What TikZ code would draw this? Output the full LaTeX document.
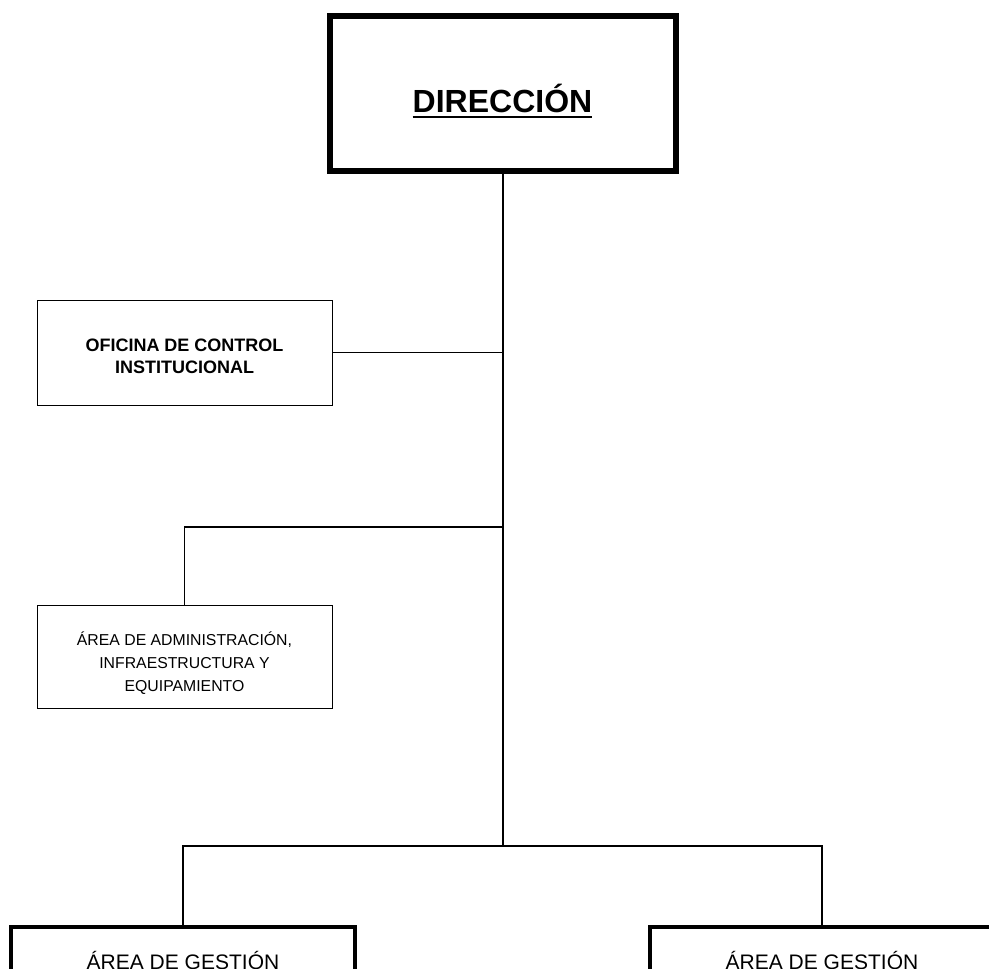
\documentclass[tikz,border=0pt]{standalone}
\usepackage{fontspec}
\setmainfont{Liberation Sans}
\begin{document}
\begin{tikzpicture}[x=1pt,y=-1pt,
  conn/.style={line width=1.5pt},
  thinbox/.style={draw,line width=1pt,inner sep=0pt,minimum width=295pt},
  boxtext/.style={inner sep=0pt,align=center},
  thickbox/.style={draw,line width=4pt,inner sep=0pt,minimum width=344pt,minimum height=120pt,anchor=north},
  lbl/.style={inner sep=0pt,anchor=base}]
\useasboundingbox (0,0) rectangle (989,969);
\clip (0,0) rectangle (989,969);
% Dirección
\node[draw,line width=6pt,minimum width=346pt,minimum height=155pt] (dir) at (503,93.5) {};
\node[lbl,font=\fontsize{32}{36}\selectfont\bfseries] (dirlbl) at (502.5,112) {DIRECCIÓN};
\draw[line width=2.8pt] ([yshift=-5pt]dirlbl.base west) -- ([yshift=-5pt]dirlbl.base east);
% side boxes
\node[thinbox,minimum height=105pt] (oci) at (184.5,352.5) {};
\node[boxtext,font=\bfseries\fontsize{18}{22}\selectfont] (ocitxt) at (184.5,356) {OFICINA DE CONTROL\\INSTITUCIONAL};
\node[thinbox,minimum height=103pt] (adm) at (184.5,656.5) {};
\node[boxtext,font=\fontsize{15.8}{23}\selectfont] (admtxt) at (184.5,663) {ÁREA DE ADMINISTRACIÓN,\\INFRAESTRUCTURA Y\\EQUIPAMIENTO};
% bottom boxes
\node[thickbox] (gl) at (183,925) {};
\node[thickbox] (gr) at (822,925) {};
\node[lbl,font=\fontsize{21}{24}\selectfont] (gllbl) at (183,969) {ÁREA DE GESTIÓN};
\node[lbl,font=\fontsize{21}{24}\selectfont] (grlbl) at (822,969) {ÁREA DE GESTIÓN};
% connectors
\coordinate (ab) at (503,527);
\coordinate (tb) at (503,846);
\draw[conn] (dir.south) -- (tb);
\draw[conn] (oci.east) -- (oci.east -| tb);
\draw[conn] (ab) -| (adm.north);
\draw[conn] (gl.north) |- (tb) -| (gr.north);
\end{tikzpicture}
\end{document}
